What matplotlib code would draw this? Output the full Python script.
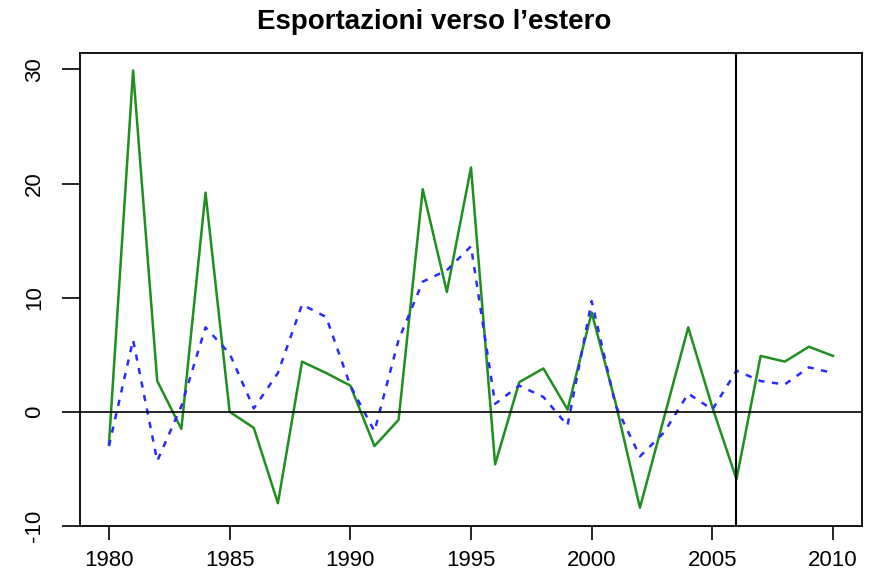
import matplotlib
matplotlib.use("Agg")
import matplotlib.pyplot as plt
import numpy as np

# data
years = list(range(1980, 2011))
observed = [-2.8, 29.9, 2.7, -1.5, 19.2, 0.0, -1.4, -8.0, 4.4, 3.4,
            2.3, -3.0, -0.7, 19.5, 10.5, 21.4, -4.6, 2.6, 3.8, 0.2,
            8.7, 0.7, -8.4, -0.5, 7.4, 0.4, -5.9, 4.9, 4.4, 5.7, 4.9]
fitted = [-3.0, 6.3, -4.3, 0.5, 7.4, 5.1, 0.3, 3.4, 9.4, 8.3,
          2.3, -1.7, 6.3, 11.4, 12.4, 14.5, 0.7, 2.3, 1.3, -1.2,
          9.7, 0.5, -3.9, -1.8, 1.6, 0.2, 3.6, 2.7, 2.4, 3.9, 3.4]
split_year = 2006
title = "Esportazioni verso l’estero"
xticks = [1980, 1985, 1990, 1995, 2000, 2005, 2010]
yticks = [-10, 0, 10, 20, 30]

plt.rcParams['font.family'] = ['Liberation Sans', 'DejaVu Sans']
plt.rcParams['axes.unicode_minus'] = False

fig = plt.figure(figsize=(8.69, 5.72), dpi=100)
ax = fig.add_axes([80 / 869, 46 / 572, 782 / 869, 473 / 572])

ax.plot(years, observed, color='#1f8f1f', lw=1.8)
ax.plot(years, fitted, color='#2a2aff', lw=1.8, linestyle=(0, (2.5, 3)))
ax.axhline(0, color='black', lw=1.2)
ax.axvline(split_year, color='black', lw=1.5)

# R-like 4% padding
lo = min(min(observed), min(fitted))
hi = max(max(observed), max(fitted))
pad = (hi - lo) * 0.04
ax.set_ylim(lo - pad, hi + pad)
ax.set_xlim(years[0] - 0.04 * (years[-1] - years[0]), years[-1] + 0.04 * (years[-1] - years[0]))

ax.set_xticks(xticks)
ax.set_yticks(yticks)
ax.tick_params(axis='both', direction='out', width=1.2, labelsize=16)
ax.tick_params(axis='x', length=10, pad=7)
ax.tick_params(axis='y', length=13, pad=12)
for lab in ax.get_yticklabels():
    lab.set_rotation(90)
    lab.set_va('center')
for s in ax.spines.values():
    s.set_linewidth(1.3)

fig.text(0.5, 0.962, title, ha='center', va='center', fontsize=20, fontweight='bold')

fig.savefig("out.png", dpi=100)
